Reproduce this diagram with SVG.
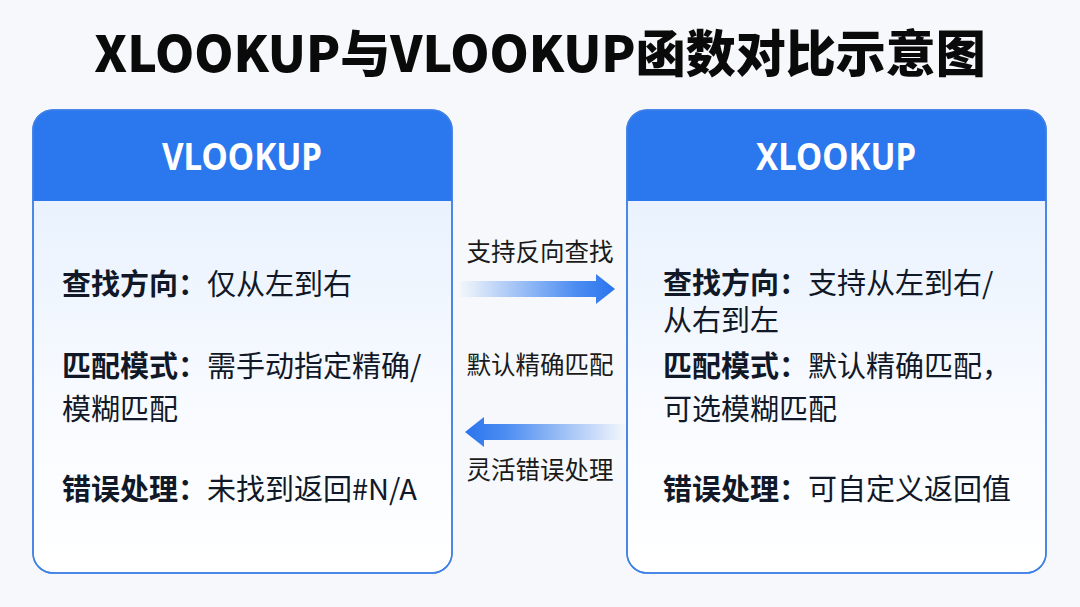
<svg xmlns="http://www.w3.org/2000/svg" width="1080" height="607" viewBox="0 0 1080 607">
<defs>
<linearGradient id="bodyG" x1="0" y1="0" x2="0" y2="1">
<stop offset="0" stop-color="#e2eefd"/>
<stop offset="0.6" stop-color="#f7faff"/>
<stop offset="1" stop-color="#ffffff"/>
</linearGradient>
<linearGradient id="arrR" x1="0" y1="0" x2="1" y2="0">
<stop offset="0" stop-color="#2f7af0" stop-opacity="0"/>
<stop offset="0.75" stop-color="#2f7af0" stop-opacity="0.85"/>
<stop offset="1" stop-color="#2a74ee"/>
</linearGradient>
<linearGradient id="arrL" x1="1" y1="0" x2="0" y2="0">
<stop offset="0" stop-color="#2f7af0" stop-opacity="0"/>
<stop offset="0.75" stop-color="#2f7af0" stop-opacity="0.85"/>
<stop offset="1" stop-color="#2a74ee"/>
</linearGradient>
<clipPath id="clipL"><rect x="33" y="110" width="419" height="463" rx="20"/></clipPath>
<clipPath id="clipR"><rect x="627" y="110" width="419" height="463" rx="20"/></clipPath>
</defs>
<style>
.title{font-family:"Noto Sans CJK SC","Noto Sans",sans-serif;font-weight:900;font-size:50px;fill:#0a0a0a}
.hdr{font-family:"Noto Sans","Noto Sans CJK SC",sans-serif;font-weight:700;font-size:37px;fill:#ffffff}
.lbl{font-family:"Noto Sans CJK SC",sans-serif;font-weight:700;font-size:29px;fill:#111827}
.val{font-family:"Noto Sans CJK SC",sans-serif;font-weight:400;font-size:29px;fill:#111827}
.conn{font-family:"Noto Sans CJK SC",sans-serif;font-weight:400;font-size:24.5px;fill:#1a1a1a}
.card{fill:url(#bodyG);stroke:#3f80e6;stroke-width:1.5}
.head{fill:#2b77ee}
</style>
<rect width="1080" height="607" fill="#f6f8fb"/>
<text class="title" x="540" y="72" text-anchor="middle">XLOOKUP与VLOOKUP函数对比示意图</text>

<g id="vlookup">
<rect class="card" x="33" y="110" width="419" height="463" rx="20"/>
<rect class="head" x="33" y="110" width="419" height="91" clip-path="url(#clipL)"/>
<rect x="33" y="110" width="419" height="463" rx="20" fill="none" stroke="#3f80e6" stroke-width="1.5"/>
<text class="hdr" x="242" y="170" text-anchor="middle" textLength="160" lengthAdjust="spacingAndGlyphs">VLOOKUP</text>
<text x="62" y="295"><tspan class="lbl">查找方向：</tspan><tspan class="val">仅从左到右</tspan></text>
<text x="62" y="377"><tspan class="lbl">匹配模式：</tspan><tspan class="val">需手动指定精确/</tspan><tspan class="val" x="62" dy="43">模糊匹配</tspan></text>
<text x="62" y="500"><tspan class="lbl">错误处理：</tspan><tspan class="val">未找到返回#N/A</tspan></text>
</g>

<g id="xlookup">
<rect class="card" x="627" y="110" width="419" height="463" rx="20"/>
<rect class="head" x="627" y="110" width="419" height="91" clip-path="url(#clipR)"/>
<rect x="627" y="110" width="419" height="463" rx="20" fill="none" stroke="#3f80e6" stroke-width="1.5"/>
<text class="hdr" x="836" y="170" text-anchor="middle" textLength="160" lengthAdjust="spacingAndGlyphs">XLOOKUP</text>
<text x="663" y="294"><tspan class="lbl">查找方向：</tspan><tspan class="val">支持从左到右/</tspan><tspan class="val" x="663" dy="37">从右到左</tspan></text>
<text x="663" y="377"><tspan class="lbl">匹配模式：</tspan><tspan class="val">默认精确匹配，</tspan><tspan class="val" x="663" dy="43">可选模糊匹配</tspan></text>
<text x="663" y="500"><tspan class="lbl">错误处理：</tspan><tspan class="val">可自定义返回值</tspan></text>
</g>

<g id="connectors">
<polygon points="458,281 596,281 596,274 615,289 596,304 596,297 458,297" fill="url(#arrR)"/>
<polygon points="627,424 484,424 484,417 465,432 484,447 484,440 627,440" fill="url(#arrL)"/>
<text class="conn" x="540" y="261" text-anchor="middle">支持反向查找</text>
<text class="conn" x="540" y="374" text-anchor="middle">默认精确匹配</text>
<text class="conn" x="540" y="479" text-anchor="middle">灵活错误处理</text>
</g>
</svg>
